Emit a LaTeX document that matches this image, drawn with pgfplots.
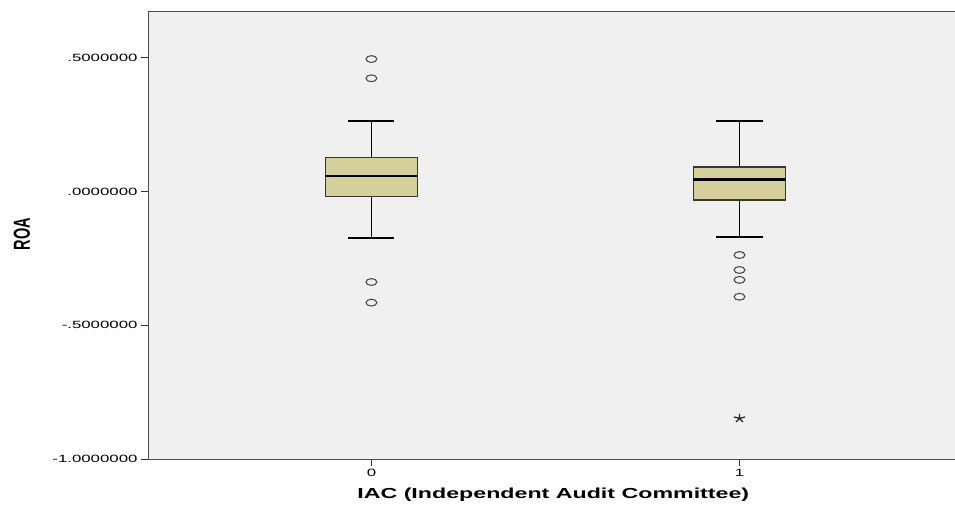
\documentclass[border=0pt]{standalone}
\usepackage{pgfplots}
\pgfplotsset{compat=1.18}
\usepgfplotslibrary{statistics}
\usepackage{graphicx}
\usepackage{fontspec}
\setmainfont{Liberation Sans}[FakeStretch=1.6]
\newfontfamily\plainfont{Liberation Sans}
\definecolor{bg}{RGB}{240,240,240}
\definecolor{boxfill}{RGB}{212,207,155}
\definecolor{edge}{RGB}{55,55,55}
\begin{document}
\begin{tikzpicture}
\useasboundingbox (0,0) rectangle (955pt,514pt);
\begin{axis}[
  at={(148pt,55pt)}, anchor=south west,
  scale only axis, width=830pt, height=447pt,
  xmin=-0.607, xmax=1.648, ymin=-1, ymax=0.672,
  axis background/.style={fill=bg},
  axis line style={line width=1pt, draw=black!70},
  xtick={0,1}, xticklabels={0,1},
  ytick={-1,-0.5,0,0.5},
  yticklabels={-1.0000000,-.5000000,.0000000,.5000000},
  tick pos=left, tick align=outside, major tick length=7pt,
  tick style={line width=1pt, black!80},
  /pgf/number format/assume math mode=true,
  ticklabel style={font=\fontsize{10.5}{12}\selectfont},
  xlabel={\bfseries IAC (Independent Audit Committee)},
  xlabel style={font=\fontsize{14.5}{16}\selectfont, at={(axis description cs:0.4883,0)}, anchor=center, yshift=-36pt},
  ylabel={\plainfont\bfseries\scalebox{1}[1.6]{ROA}},
  ylabel style={font=\fontsize{14.5}{16}\selectfont, at={(axis description cs:-0.152,0.503)}, anchor=center},
  boxplot/draw direction=y,
  boxplot/every median/.style={line width=2.8pt, draw=black},
  boxplot/every box/.style={draw=edge, fill=boxfill, line width=1.4pt},
  boxplot/every whisker/.style={solid, draw=black, line width=1.8pt},
]
\addplot[draw=black, line width=1.8pt, boxplot prepared={draw position=0, lower whisker=-0.172, lower quartile=-0.0172, median=0.0587, upper quartile=0.1287, upper whisker=0.2645, box extend=0.25, whisker extend=0.125},
  mark=o, mark size=3.4pt, mark options={xscale=1.6, line width=1.1pt, draw=black!70, fill=none}]
  coordinates {(0,0.496) (0,0.424) (0,-0.338) (0,-0.415)};
\addplot[draw=black, line width=1.8pt, boxplot prepared={draw position=1, lower whisker=-0.1706, lower quartile=-0.031, median=0.0449, upper quartile=0.0924, upper whisker=0.2656, box extend=0.25, whisker extend=0.125},
  mark=o, mark size=3.4pt, mark options={xscale=1.6, line width=1.1pt, draw=black!70, fill=none}]
  coordinates {(1,-0.237) (1,-0.293) (1,-0.330) (1,-0.393)};
\addplot[only marks, mark=star, mark size=4.5pt, mark options={xscale=1.3, draw=black!85, line width=1.3pt}]
  coordinates {(1,-0.848)};
\end{axis}
\end{tikzpicture}
\end{document}
